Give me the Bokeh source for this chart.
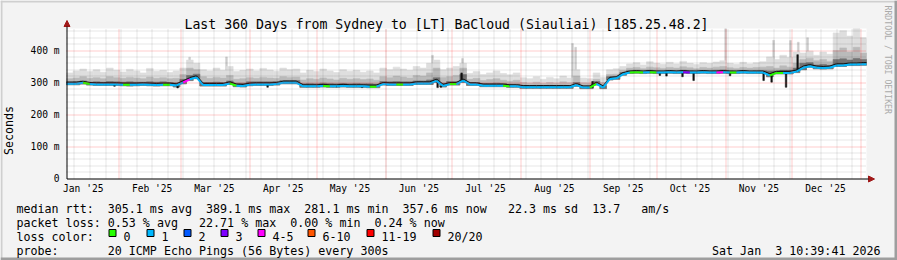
import math
import datetime as dt
from bokeh.plotting import figure
from bokeh.models import (Range1d, FixedTicker, Label, Arrow, NormalHead, LinearAxis, BoxAnnotation)
from bokeh.embed import file_html
from bokeh.resources import INLINE

# ---------------- data ----------------
TITLE = "Last 360 Days from Sydney to [LT] BaCloud (Siauliai) [185.25.48.2]"
END_TIME = dt.datetime(2026, 1, 3, 10, 39, 41)
SPAN_DAYS = 360
BIN_DAYS = 3

# median rtt per 3-day bin (ms)
MED = [296, 296, 299, 295, 294, 294, 294, 294, 293, 293,
       293, 294, 293, 292, 293, 293, 291, 300, 310, 316,
       292, 292, 292, 292, 297, 290, 289, 293, 294, 294,
       294, 295, 299, 299, 299, 288, 288, 288, 289, 288,
       288, 289, 288, 288, 288, 287, 287, 295, 294, 294,
       294, 294, 297, 297, 297, 305, 289, 295, 295, 306,
       294, 294, 290, 290, 290, 290, 288, 288, 285, 285,
       285, 285, 285, 285, 285, 285, 292, 284, 284, 296,
       284, 311, 313, 326, 331, 332, 331, 332, 331, 331,
       332, 331, 332, 331, 331, 332, 331, 331, 332, 331,
       331, 332, 331, 331, 331, 322, 330, 330, 330, 334,
       346, 351, 346, 345, 346, 353, 353, 356, 356, 357]
# lowest ping per bin
LOW = [293, 293, 295, 292, 291, 291, 291, 291, 290, 289,
       290, 291, 290, 289, 290, 290, 286, 296, 306, 312,
       289, 289, 289, 289, 294, 287, 286, 290, 291, 291,
       291, 292, 296, 296, 296, 285, 285, 285, 286, 285,
       285, 286, 285, 285, 285, 284, 284, 292, 291, 291,
       291, 291, 294, 294, 294, 300, 286, 292, 292, 300,
       291, 291, 287, 287, 287, 287, 285, 285, 282, 282,
       282, 282, 282, 282, 282, 282, 288, 281, 281, 292,
       281, 308, 310, 323, 328, 329, 328, 329, 328, 328,
       329, 328, 329, 328, 328, 329, 328, 328, 329, 328,
       328, 329, 328, 328, 328, 318, 327, 327, 327, 331,
       340, 348, 343, 342, 343, 350, 350, 353, 353, 354]
# top of dark smoke core
DK = [301, 302, 305, 301, 302, 301, 303, 302, 301, 302,
      301, 301, 302, 301, 302, 300, 299, 310, 322, 326,
      300, 300, 301, 300, 305, 298, 298, 302, 302, 302,
      302, 303, 306, 306, 306, 296, 297, 296, 298, 297,
      296, 297, 296, 297, 296, 296, 295, 303, 302, 303,
      302, 302, 305, 305, 308, 315, 298, 303, 303, 325,
      300, 300, 297, 297, 298, 297, 295, 295, 291, 290,
      291, 290, 291, 290, 291, 290, 300, 290, 290, 303,
      290, 318, 319, 331, 337, 338, 336, 338, 337, 336,
      337, 337, 338, 337, 336, 337, 337, 338, 339, 337,
      336, 337, 336, 337, 337, 336, 336, 338, 338, 345,
      360, 362, 355, 356, 354, 372, 374, 370, 375, 372]
# top of mid-grey smoke
MG = [312, 314, 318, 313, 315, 312, 318, 315, 313, 316,
      314, 312, 317, 313, 315, 312, 313, 325, 345, 340,
      318, 313, 316, 314, 322, 310, 312, 315, 313, 316,
      314, 313, 318, 316, 317, 308, 312, 310, 314, 311,
      308, 313, 310, 312, 309, 311, 307, 318, 315, 320,
      317, 314, 322, 320, 330, 345, 316, 318, 322, 345,
      310, 313, 306, 309, 312, 307, 304, 307, 300, 298,
      301, 297, 300, 298, 302, 299, 320, 299, 298, 310,
      300, 325, 326, 338, 345, 347, 343, 348, 346, 344,
      347, 345, 349, 346, 343, 347, 345, 348, 350, 346,
      344, 347, 345, 347, 348, 350, 345, 352, 348, 360,
      372, 376, 368, 372, 366, 400, 408, 395, 410, 392]
# top of light smoke (highest ping)
LT = [330, 336, 342, 334, 340, 332, 345, 338, 333, 341,
      336, 330, 344, 335, 338, 331, 336, 345, 370, 360,
      340, 336, 345, 338, 350, 334, 338, 342, 336, 344,
      339, 335, 345, 340, 342, 330, 338, 334, 342, 336,
      331, 340, 335, 338, 332, 336, 330, 345, 340, 348,
      342, 338, 350, 345, 360, 370, 340, 345, 350, 360,
      328, 334, 325, 330, 336, 328, 324, 330, 315, 312,
      318, 310, 316, 312, 320, 314, 340, 314, 312, 330,
      316, 340, 343, 350, 358, 362, 355, 365, 360, 357,
      363, 358, 366, 360, 356, 362, 359, 364, 368, 360,
      357, 363, 358, 362, 365, 380, 372, 385, 378, 395,
      392, 398, 385, 395, 388, 455, 462, 445, 468, 440]
# loss bucket per bin (index into LOSS_LABELS)
LOSS = [1, 1, 1, 0, 1, 1, 1, 1, 1, 0,
        1, 1, 1, 1, 1, 0, 1, 1, 4, 1,
        1, 1, 1, 1, 1, 0, 1, 1, 1, 1,
        1, 1, 1, 1, 1, 1, 1, 1, 1, 0,
        1, 1, 1, 1, 1, 1, 0, 1, 1, 1,
        0, 1, 1, 1, 1, 1, 1, 1, 0, 1,
        1, 1, 1, 1, 1, 1, 0, 1, 1, 1,
        1, 1, 1, 1, 1, 1, 1, 1, 1, 0,
        1, 1, 1, 1, 1, 0, 0, 1, 0, 1,
        1, 1, 1, 3, 1, 1, 1, 1, 4, 1,
        0, 1, 1, 1, 1, 1, 0, 0, 1, 1,
        1, 1, 1, 1, 1, 1, 1, 1, 1, 1]
# narrow tall outlier strands (day, highest ping ms)
SPIKE_DAY = [55.4, 72.0, 164.7, 178.2, 227.7, 229.1, 296.6, 318.2, 325.8, 329.3, 333.5]
SPIKE_TOP = [379, 380, 385, 375, 422, 410, 468, 432, 431, 426, 440]
# narrow dark dips below the median (day, lowest ms)
DIP_DAY = [21.6, 50.0, 90.5, 121.5, 133.0, 167.0, 168.5, 267.0, 270.0, 277.2, 282.2, 298.6, 313.7, 317.3, 323.8]
DIP_LOW = [288, 283, 285, 286, 284, 284, 285, 322, 320, 318, 306, 321, 306, 301, 285]
# narrow dark strands above the median (day, ms)
DARKUP_DAY = [177.8, 236.7, 329.0]
DARKUP_TOP = [330, 303, 387]

LOSS_LABELS = ["0", "1", "2", "3", "4-5", "6-10", "11-19", "20/20"]
LOSS_COLORS = ["#26ff00", "#00b8ff", "#0059ff", "#7e00ff", "#ff00ff", "#ff5500", "#ff0000", "#a10000"]
MONTH_LABELS = ["Jan '25", "Feb '25", "Mar '25", "Apr '25", "May '25", "Jun '25",
                "Jul '25", "Aug '25", "Sep '25", "Oct '25", "Nov '25", "Dec '25"]
Y_TICKS = [0, 100, 200, 300, 400]
Y_TICK_LABELS = ["0", "100 m", "200 m", "300 m", "400 m"]
Y_LABEL = "Seconds"

LEG_MEDIAN = [("median rtt:", 0), ("305.1 ms avg", 13), ("389.1 ms max", 27), ("281.1 ms min", 41),
              ("357.6 ms now", 55), ("22.3 ms sd", 70), ("13.7", 82), ("am/s", 89)]
LEG_LOSS = [("packet loss:", 0), ("0.53 % avg", 13), ("22.71 % max", 26), ("0.00 % min", 39), ("0.24 % now", 51)]
LEG_COLOR = "loss color:"
LEG_PROBE = [("probe:", 0), ("20 ICMP Echo Pings (56 Bytes) every 300s", 13)]
STAMP_A = "Sat Jan"
STAMP_B = "3 10:39:41 2026"
WATERMARK = "RRDTOOL / TOBI OETIKER"

# ---------------- layout ----------------
FONT = "DejaVu Sans Mono"
W, H = 897, 260
X0, Y0 = 66, 178          # plot-area left / bottom in page pixels
FW, FH = 800, 150         # plot-area size in pixels
PXD = FW / SPAN_DAYS      # px per day
PXV = 0.32                # px per ms
Y_TOP = FH / PXV          # value at top of plot area
CW = 7.02                 # legend char width
LX = 16                   # legend left


def xd(px):
    return (px - X0) / PXD


def yv(py):
    return (Y0 - py) / PXV


def snap_x(day):          # put a 1px line on a pixel centre
    return xd(math.floor(X0 + day * PXD) + 0.5)


def snap_y(val):
    return yv(math.floor(Y0 - val * PXV) + 0.5)


START_TIME = END_TIME - dt.timedelta(days=SPAN_DAYS)


def day_of(t):
    return (t - START_TIME).total_seconds() / 86400.0


month_starts = [dt.datetime(2025, m, 1) for m in range(2, 13)] + [dt.datetime(2026, 1, 1)]
month_ticks = [snap_x(day_of(t)) for t in month_starts if 0 <= day_of(t) <= SPAN_DAYS]
label_ticks = [round(day_of(dt.datetime(2025, m, 1)) + 15, 4) for m in range(1, 13)]
week_ticks = []
d = dt.datetime(2025, 1, 12)
while day_of(d) < SPAN_DAYS:
    week_ticks.append(snap_x(day_of(d)))
    d += dt.timedelta(days=7)
y_minor = [snap_y(v) for v in range(20, int(Y_TOP), 20) if v % 100 != 0]
y_major = [snap_y(v) for v in Y_TICKS if v > 0]

# the frame covers the whole canvas; the chart area is [0, SPAN_DAYS] x [0, Y_TOP]
p = figure(width=W, height=H, x_range=Range1d(xd(0), xd(W)), y_range=Range1d(yv(H), yv(0)),
           x_axis_type=None, y_axis_type=None, title=None,
           output_backend="svg", toolbar_location=None,
           min_border=0, min_border_left=0, min_border_right=0, min_border_top=0, min_border_bottom=0,
           background_fill_color="#f3f3f3", border_fill_color="#f3f3f3", outline_line_color=None)

p.add_layout(BoxAnnotation(left=0, right=SPAN_DAYS, bottom=0, top=Y_TOP, fill_color="#ffffff",
                           fill_alpha=1.0, line_color=None, level="underlay"))

# axes fixed at the chart origin
yax = LinearAxis(fixed_location=0, ticker=FixedTicker(ticks=Y_TICKS),
                 major_label_overrides={t: s for t, s in zip(Y_TICKS, Y_TICK_LABELS)},
                 axis_label=Y_LABEL)
xax = LinearAxis(fixed_location=0, ticker=FixedTicker(ticks=label_ticks),
                 major_label_overrides={t: s for t, s in zip(label_ticks, MONTH_LABELS)})
for ax in (xax, yax):
    ax.major_label_text_font = FONT
    ax.major_label_text_font_size = "9.6px"
    ax.major_label_text_color = "#000000"
    ax.major_tick_line_color = None
    ax.minor_tick_line_color = None
    ax.major_tick_out = 0
    ax.major_tick_in = 0
    ax.axis_line_color = None
yax.axis_label_text_font = FONT
yax.axis_label_text_font_size = "11.66px"
yax.axis_label_text_font_style = "normal"
yax.axis_label_text_color = "#000000"
yax.axis_label_standoff = 12
yax.major_label_standoff = 7
xax.major_label_standoff = 4
p.add_layout(yax, "left")
p.add_layout(xax, "below")

# smoke
n = len(MED)
lefts = [k * BIN_DAYS for k in range(n)]
rights = [k * BIN_DAYS + BIN_DAYS for k in range(n)]
centers = [k * BIN_DAYS + BIN_DAYS / 2 for k in range(n)]


def med_at(day):
    return MED[min(int(day // BIN_DAYS), n - 1)]


p.quad(left=[x - 0.4 for x in SPIKE_DAY], right=[x + 0.4 for x in SPIKE_DAY],
       bottom=[med_at(x) for x in SPIKE_DAY], top=SPIKE_TOP,
       fill_color="#cdcdcd", line_color="#cdcdcd", line_width=0.5)
p.quad(left=lefts, right=rights, bottom=LOW, top=LT, fill_color="#dedede", line_color="#dedede", line_width=0.6)
p.quad(left=lefts, right=rights, bottom=LOW, top=MG, fill_color="#bababa", line_color="#bababa", line_width=0.6)
p.quad(left=lefts, right=rights, bottom=LOW, top=DK, fill_color="#727272", line_color="#727272", line_width=0.6)
p.quad(left=[x - 0.35 for x in DIP_DAY], right=[x + 0.35 for x in DIP_DAY], bottom=DIP_LOW,
       top=[med_at(x) for x in DIP_DAY], fill_color="#111111", line_color="#111111", line_width=0.5)
p.quad(left=[x - 0.35 for x in DARKUP_DAY], right=[x + 0.35 for x in DARKUP_DAY],
       bottom=[med_at(x) for x in DARKUP_DAY], top=DARKUP_TOP,
       fill_color="#111111", line_color="#111111", line_width=0.5)

# median line, coloured by loss, with the dark smoke core just above it
xs = [0.0] + centers + [float(SPAN_DAYS)]
ys = [MED[0]] + MED + [MED[-1]]
cols = [LOSS_COLORS[LOSS[min(i, n - 1)]] for i in range(len(xs) - 1)]
core_up = 1.6 / PXV
p.segment(x0=xs[:-1], y0=[y + core_up for y in ys[:-1]], x1=xs[1:], y1=[y + core_up for y in ys[1:]],
          line_color="#1a1a1a", line_width=1.2)
p.segment(x0=xs[:-1], y0=ys[:-1], x1=xs[1:], y1=ys[1:], line_color=cols, line_width=2.0)

# grid (rrdtool paints it over the data)
GRID_MINOR = dict(line_color="#000000", line_alpha=0.2, line_dash="1 1", line_width=1)
GRID_MAJOR = dict(line_color="#ff0000", line_alpha=0.4, line_dash="1 1", line_width=1)
p.segment(x0=week_ticks, x1=week_ticks, y0=[0] * len(week_ticks), y1=[Y_TOP] * len(week_ticks), **GRID_MINOR)
p.segment(x0=[0] * len(y_minor), x1=[SPAN_DAYS] * len(y_minor), y0=y_minor, y1=y_minor, **GRID_MINOR)
p.segment(x0=month_ticks, x1=month_ticks, y0=[0] * len(month_ticks), y1=[Y_TOP] * len(month_ticks), **GRID_MAJOR)
p.segment(x0=[0] * len(y_major), x1=[SPAN_DAYS] * len(y_major), y0=y_major, y1=y_major, **GRID_MAJOR)

# axis lines with arrow heads
ARROW_C = "#a01818"
AX_X = xd(66.5)
AX_Y = yv(178.5)
p.add_layout(Arrow(end=NormalHead(size=6, fill_color=ARROW_C, line_color=ARROW_C),
                   x_start=AX_X, y_start=AX_Y, x_end=AX_X, y_end=yv(20), line_color="#000000", line_width=1))
p.add_layout(Arrow(end=NormalHead(size=6, fill_color=ARROW_C, line_color=ARROW_C),
                   x_start=AX_X, y_start=AX_Y, x_end=xd(874), y_end=AX_Y, line_color="#000000", line_width=1))


# texts
def add_text(txt, px, py, size, align="left", baseline="alphabetic", color="#000000", angle=0.0):
    p.add_layout(Label(x=xd(px), y=yv(py), text=txt,
                       text_font=FONT, text_font_size=size, text_align=align,
                       text_baseline=baseline, text_color=color, angle=angle))


add_text(TITLE, 446, 24, "13.2px", align="center")
for txt, col in LEG_MEDIAN:
    add_text(txt, LX + col * CW, 208, "11.66px")
for txt, col in LEG_LOSS:
    add_text(txt, LX + col * CW, 222, "11.66px")
add_text(LEG_COLOR, LX, 236, "11.66px")
for txt, col in LEG_PROBE:
    add_text(txt, LX + col * CW, 250, "11.66px")
add_text(STAMP_B, 880, 250, "11.66px", align="right")
add_text(STAMP_A, 880 - 17 * CW, 250, "11.66px", align="right")
add_text(WATERMARK, 887, 5, "8.2px", align="left", baseline="middle", color="#aaaaaa", angle=-math.pi / 2)

BOX_LEFT = [108, 146, 183, 220, 257, 307, 366, 432]
p.scatter(x=[xd(b + 4) for b in BOX_LEFT], y=[yv(232.5)] * len(BOX_LEFT), marker="square", size=7,
          fill_color=LOSS_COLORS, line_color="#000000", line_width=1)
for b, lab in zip(BOX_LEFT, LOSS_LABELS):
    add_text(lab, b + 15, 236, "11.66px")


# 3-D frame around the image
def frame_band(x1, y1, x2, y2, color):
    p.quad(left=[xd(x1)], right=[xd(x2)], top=[yv(y1)], bottom=[yv(y2)],
           fill_color=color, line_color=None)


frame_band(0, 0, W, 2, "#cfcfcf")
frame_band(0, 0, 2, H, "#cfcfcf")
frame_band(W - 3, 0, W, H, "#9e9e9e")
frame_band(0, H - 3, W, H, "#9e9e9e")

open("out.html", "w").write(file_html(p, INLINE))
